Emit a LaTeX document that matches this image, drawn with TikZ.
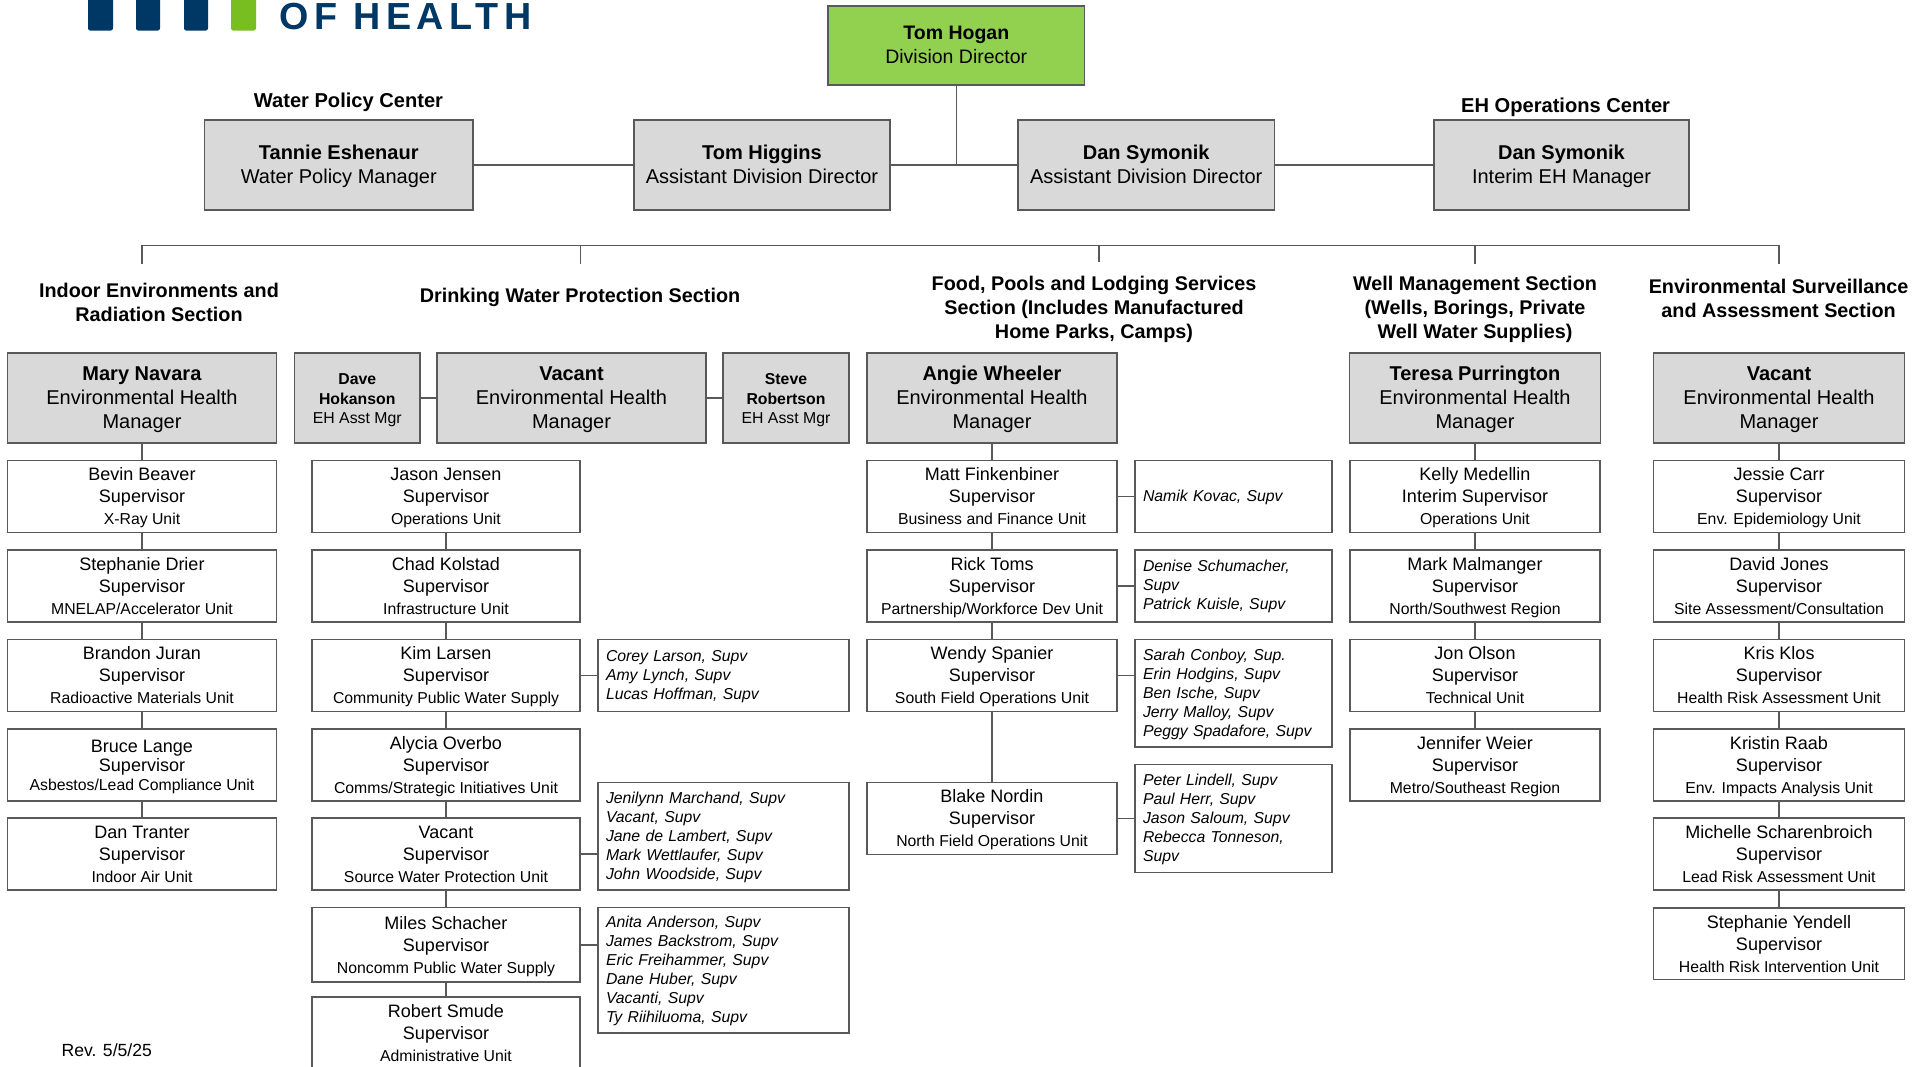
\documentclass[tikz,border=0pt]{standalone}
\usepackage{fontspec}
\setmainfont{Liberation Sans}
\definecolor{boxgray}{HTML}{D9D9D9}
\definecolor{dirgreen}{HTML}{92D050}
\definecolor{edge}{HTML}{595959}
\definecolor{navy}{HTML}{003865}
\definecolor{logogreen}{HTML}{78BE20}
\newcommand\fsz[2]{\fontsize{#1}{#2}\selectfont}
\newcommand\ts{\vphantom{Ag}}
\newcommand\tf[1]{\rule{0pt}{#1pt}}
\newcommand\bx[7][]{\node[#1,minimum width={(#5-#3)*1pt},minimum height={(#6-#4)*1pt}] (#2) at ({(#3+#5)/2},{(#4+#6)/2}) {#7};}
\newcommand\sv[8]{\bx[supbox]{#1}{#2}{#3}{#4}{#5}{\tf{16}#6\\#7\\{\fsz{15.8}{22}\ts #8}}}
\tikzset{
  basebox/.style={draw=edge,line width=1.5pt,inner sep=0pt,outer sep=0pt,align=center},
  dirbox/.style={basebox,fill=dirgreen,font=\fsz{19.5}{24}},
  topbox/.style={basebox,fill=boxgray,font=\fsz{20}{24}},
  asstbox/.style={basebox,fill=boxgray,font=\fsz{15.8}{19.5}},
  supbox/.style={basebox,fill=white,font=\fsz{18}{22}},
  tightbox/.style={basebox,fill=white,font=\fsz{18}{19}},
  sidebox/.style={basebox,fill=white,font=\fsz{15.8}{19}\itshape,align=left,inner xsep=8pt,text width={#1*1pt},execute at begin node={\rule{0pt}{13pt}}},
  sectlabel/.style={inner sep=0pt,align=center,font=\fsz{19.8}{24}\bfseries},
  centerlabel/.style={inner sep=0pt,font=\fsz{20.1}{24}\bfseries},
  conn/.style={draw=edge,line width=1.5pt},
}
\begin{document}
\begin{tikzpicture}[x=1pt,y=-1pt]
\clip (0,0) rectangle (1931,1067);
\fill[white] (0,0) rectangle (1931,1067);
% logo
\fill[navy,rounded corners=2.5pt] (88,-8) rectangle (113,30.7);
\fill[navy,rounded corners=2.5pt] (136,-8) rectangle (160,30.7);
\fill[navy,rounded corners=2.5pt] (184,-8) rectangle (208,30.7);
\fill[logogreen,rounded corners=2.5pt] (231,-8) rectangle (256,30.7);
\node[anchor=base west,inner sep=0pt,text=navy,font=\fsz{37.7}{40}\bfseries\addfontfeature{LetterSpace=15}] (logotext) at (279,30) {OF HEALTH};
% top
\bx[dirbox]{dir}{828}{6}{1084.6}{85}{\tf{17}\textbf{Tom Hogan}\\\ts Division Director}
\bx[topbox]{tannie}{204.5}{120}{473}{210}{\tf{18}\textbf{Tannie Eshenaur}\\\ts Water Policy Manager}
\bx[topbox]{higgins}{634}{120}{890}{210}{\tf{18}\textbf{Tom Higgins}\\\ts Assistant Division Director}
\bx[topbox]{danone}{1018}{120}{1274.5}{210}{\tf{18}\textbf{Dan Symonik}\\\ts Assistant Division Director}
\bx[topbox]{dantwo}{1434}{120}{1689}{210}{\tf{18}\textbf{Dan Symonik}\\\ts Interim EH Manager}
\node[centerlabel] (wpc) at (348.5,102.5) {Water Policy Center};
\node[centerlabel] (ehoc) at (1565.6,107.5) {EH Operations Center};
\draw[conn] (dir.south) -- (dir.south |- higgins.east);
\draw[conn] (tannie.east) -- (higgins.west);
\draw[conn] (higgins.east) -- (danone.west);
\draw[conn] (danone.east) -- (dantwo.west);
% bus
\coordinate (ba) at (142,245.7);
\coordinate (bb) at (580.5,245.7);
\coordinate (bc) at (1099,245.7);
\coordinate (bd) at (1475,245.7);
\coordinate (be) at (1779,245.7);
\coordinate (da) at (142,264);
\coordinate (db) at (580.5,264);
\coordinate (dc) at (1099,262);
\coordinate (dd) at (1475,264);
\coordinate (de) at (1779,264);
\draw[conn] (da) -- (ba) -- (be) -- (de);
\draw[conn] (bb) -- (db);
\draw[conn] (bc) -- (dc);
\draw[conn] (bd) -- (dd);
% section labels
\node[sectlabel] (sa) at (159,302) {Indoor Environments and\\Radiation Section};
\node[sectlabel] (sb) at (580,297) {Drinking Water Protection Section};
\node[sectlabel] (sc) at (1094,309) {Food, Pools and Lodging Services\\Section (Includes Manufactured\\Home Parks, Camps)};
\node[sectlabel] (sd) at (1475,309) {Well Management Section\\(Wells, Borings, Private\\Well Water Supplies)};
\node[sectlabel] (se) at (1778.6,298) {Environmental Surveillance\\and Assessment Section};
% managers
\bx[topbox]{mary}{7.5}{353}{276.5}{443}{\tf{18}\textbf{Mary Navara}\\Environmental Health\\\ts Manager}
\bx[asstbox]{dave}{294.5}{353}{420}{443}{\tf{16}\textbf{Dave}\\\textbf{Hokanson}\\\ts EH Asst Mgr}
\bx[topbox]{vacdw}{437}{353}{706}{443}{\tf{18}\textbf{Vacant}\\Environmental Health\\\ts Manager}
\bx[asstbox]{steve}{723}{353}{849}{443}{\tf{16}\textbf{Steve}\\\textbf{Robertson}\\\ts EH Asst Mgr}
\bx[topbox]{angie}{867}{353}{1117}{443}{\tf{18}\textbf{Angie Wheeler}\\Environmental Health\\\ts Manager}
\bx[topbox]{teresa}{1349.5}{353}{1600.5}{443}{\tf{18}\textbf{Teresa Purrington}\\Environmental Health\\\ts Manager}
\bx[topbox]{vacenv}{1653.5}{353}{1904.5}{443}{\tf{18}\textbf{Vacant}\\Environmental Health\\\ts Manager}
\draw[conn] (dave.east) -- (dave.east -| vacdw.west);
\draw[conn] (vacdw.east) -- (vacdw.east -| steve.west);
% column 1
\sv{aa}{7.5}{460.3}{276.5}{532.4}{Bevin Beaver}{Supervisor}{X-Ray Unit}
\sv{ab}{7.5}{550.2}{276.5}{622}{Stephanie Drier}{Supervisor}{MNELAP/Accelerator Unit}
\sv{ac}{7.5}{639.3}{276.5}{711.5}{Brandon Juran}{Supervisor}{Radioactive Materials Unit}
\bx[tightbox]{ad}{7.5}{729}{276.5}{800.8}{\tf{16}Bruce Lange\\Supervisor\\{\fsz{15.8}{19}\ts Asbestos/Lead Compliance Unit}}
\sv{ae}{7.5}{818.2}{276.5}{890}{Dan Tranter}{Supervisor}{Indoor Air Unit}
\draw[conn] (mary.south) -- (aa.north);
\draw[conn] (aa) -- (ab);
\draw[conn] (ab) -- (ac);
\draw[conn] (ac) -- (ad);
\draw[conn] (ad) -- (ae);
% column 2
\sv{ba}{312}{460.3}{580}{532.4}{Jason Jensen}{Supervisor}{Operations Unit}
\sv{bb}{312}{550.2}{580}{622}{Chad Kolstad}{Supervisor}{Infrastructure Unit}
\sv{bc}{312}{639.3}{580}{711.5}{Kim Larsen}{Supervisor}{Community Public Water Supply}
\sv{bd}{312}{729}{580}{800.8}{Alycia Overbo}{Supervisor}{Comms/Strategic Initiatives Unit}
\sv{be}{312}{818.2}{580}{890}{Vacant}{Supervisor}{Source Water Protection Unit}
\sv{bf}{312}{907.7}{580}{982}{Miles Schacher}{Supervisor}{Noncomm Public Water Supply}
\sv{bg}{312}{997}{580}{1069}{Robert Smude}{Supervisor}{Administrative Unit}
\draw[conn] (ba) -- (bb);
\draw[conn] (bb) -- (bc);
\draw[conn] (bc) -- (bd);
\draw[conn] (bd) -- (be);
\draw[conn] (be) -- (bf);
\draw[conn] (bf) -- (bg);
\bx[sidebox=235]{sba}{598}{639.3}{849}{711.5}{Corey Larson, Supv\\Amy Lynch, Supv\\Lucas Hoffman, Supv}
\bx[sidebox=235]{sbb}{598}{782.5}{849}{890}{Jenilynn Marchand, Supv\\Vacant, Supv\\Jane de Lambert, Supv\\Mark Wettlaufer, Supv\\John Woodside, Supv}
\bx[sidebox=235]{sbc}{598}{907.7}{849}{1033}{Anita Anderson, Supv\\James Backstrom, Supv\\Eric Freihammer, Supv\\Dane Huber, Supv\\Vacanti, Supv\\Ty Riihiluoma, Supv}
\draw[conn] (bc.east) -- (bc.east -| sba.west);
\draw[conn] (be.east) -- (be.east -| sbb.west);
\draw[conn] (bf.east) -- (bf.east -| sbc.west);
% column 3
\sv{ca}{867}{460.3}{1117}{532.4}{Matt Finkenbiner}{Supervisor}{Business and Finance Unit}
\sv{cb}{867}{550.2}{1117}{622}{Rick Toms}{Supervisor}{Partnership/Workforce Dev Unit}
\sv{cc}{867}{639.3}{1117}{711.5}{Wendy Spanier}{Supervisor}{South Field Operations Unit}
\sv{cd}{867}{782.5}{1117}{854.6}{Blake Nordin}{Supervisor}{North Field Operations Unit}
\draw[conn] (angie.south) -- (ca.north);
\draw[conn] (ca) -- (cb);
\draw[conn] (cb) -- (cc);
\draw[conn] (cc) -- (cd);
\bx[sidebox=181]{sca}{1135}{460.3}{1332}{532.4}{Namik Kovac, Supv}
\bx[sidebox=181]{scb}{1135}{550.2}{1332}{622}{Denise Schumacher,\\Supv\\Patrick Kuisle, Supv}
\bx[sidebox=181]{scc}{1135}{639.3}{1332}{747}{Sarah Conboy, Sup.\\Erin Hodgins, Supv\\Ben Ische, Supv\\Jerry Malloy, Supv\\Peggy Spadafore, Supv}
\bx[sidebox=181]{scd}{1135}{764.3}{1332}{872.5}{Peter Lindell, Supv\\Paul Herr, Supv\\Jason Saloum, Supv\\Rebecca Tonneson,\\Supv}
\draw[conn] (ca.east) -- (ca.east -| sca.west);
\draw[conn] (cb.east) -- (cb.east -| scb.west);
\draw[conn] (cc.east) -- (cc.east -| scc.west);
\draw[conn] (cd.east) -- (cd.east -| scd.west);
% column 4
\sv{da}{1350}{460.3}{1600}{532.4}{Kelly Medellin}{Interim Supervisor}{Operations Unit}
\sv{db}{1350}{550.2}{1600}{622}{Mark Malmanger}{Supervisor}{North/Southwest Region}
\sv{dc}{1350}{639.3}{1600}{711.5}{Jon Olson}{Supervisor}{Technical Unit}
\sv{dd}{1350}{729}{1600}{801}{Jennifer Weier}{Supervisor}{Metro/Southeast Region}
\draw[conn] (teresa.south) -- (da.north);
\draw[conn] (da) -- (db);
\draw[conn] (db) -- (dc);
\draw[conn] (dc) -- (dd);
% column 5
\sv{ea}{1653.5}{460.3}{1904.5}{532.4}{Jessie Carr}{Supervisor}{Env. Epidemiology Unit}
\sv{eb}{1653.5}{550.2}{1904.5}{622}{David Jones}{Supervisor}{Site Assessment/Consultation}
\sv{ec}{1653.5}{639.3}{1904.5}{711.5}{Kris Klos}{Supervisor}{Health Risk Assessment Unit}
\sv{ed}{1653.5}{729}{1904.5}{801}{Kristin Raab}{Supervisor}{Env. Impacts Analysis Unit}
\sv{ee}{1653.5}{818.2}{1904.5}{890}{Michelle Scharenbroich}{Supervisor}{Lead Risk Assessment Unit}
\sv{ef}{1653.5}{907.8}{1904.5}{979.6}{Stephanie Yendell}{Supervisor}{Health Risk Intervention Unit}
\draw[conn] (vacenv.south) -- (ea.north);
\draw[conn] (ea) -- (eb);
\draw[conn] (eb) -- (ec);
\draw[conn] (ec) -- (ed);
\draw[conn] (ed) -- (ee);
\draw[conn] (ee) -- (ef);
\node[anchor=base west,inner sep=0pt,font=\fsz{17.6}{20}] (rev) at (61.4,1056) {Rev. 5/5/25};
\end{tikzpicture}
\end{document}
